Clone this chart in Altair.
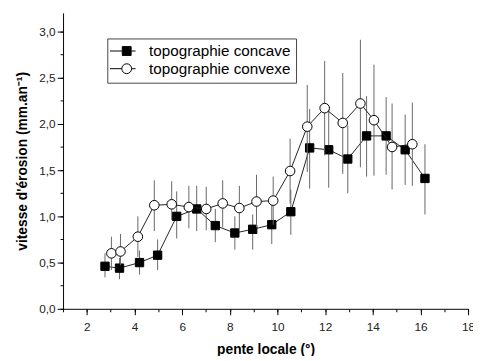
import altair as alt
import pandas as pd

# ---------------- data ----------------
series_names = ["topographie concave", "topographie convexe"]

concave_x = [2.76, 3.37, 4.21, 4.97, 5.77, 6.61, 7.39, 8.21, 8.96, 9.76, 10.56, 11.35, 12.15, 12.95, 13.74, 14.56, 15.36, 16.19]
concave_y = [0.46, 0.44, 0.50, 0.58, 1.00, 1.08, 0.90, 0.82, 0.86, 0.91, 1.05, 1.74, 1.72, 1.62, 1.87, 1.87, 1.72, 1.41]
concave_lo = [0.34, 0.32, 0.37, 0.42, 0.76, 0.84, 0.72, 0.64, 0.64, 0.70, 0.80, 1.30, 1.31, 1.25, 1.43, 1.45, 1.34, 1.02]
concave_hi = [0.60, 0.55, 0.63, 0.75, 1.27, 1.33, 1.08, 1.00, 1.02, 1.14, 1.29, 2.16, 2.18, 1.98, 2.30, 2.29, 2.10, 1.78]

convex_x = [3.03, 3.41, 4.14, 4.83, 5.56, 6.28, 7.01, 7.70, 8.40, 9.12, 9.82, 10.53, 11.25, 11.98, 12.74, 13.48, 14.05, 14.81, 15.66]
convex_y = [0.60, 0.62, 0.78, 1.12, 1.13, 1.10, 1.08, 1.14, 1.09, 1.16, 1.17, 1.49, 1.97, 2.17, 2.01, 2.22, 2.04, 1.75, 1.78]
convex_lo = [0.42, 0.47, 0.56, 0.84, 0.96, 0.87, 0.85, 0.88, 0.86, 0.88, 0.91, 1.14, 1.48, 1.66, 1.46, 1.53, 1.44, 1.29, 1.33]
convex_hi = [0.78, 0.81, 1.00, 1.39, 1.38, 1.33, 1.32, 1.39, 1.33, 1.45, 1.43, 1.84, 2.42, 2.68, 2.55, 2.91, 2.64, 2.22, 2.23]

x_major_ticks = [2, 4, 6, 8, 10, 12, 14, 16, 18]
x_minor_ticks = [1, 2, 3, 4, 5, 6, 7, 8, 9, 10, 11, 12, 13, 14, 15, 16, 17, 18]
y_major_ticks = [0.0, 0.5, 1.0, 1.5, 2.0, 2.5, 3.0]
y_minor_ticks = [0.0, 0.25, 0.5, 0.75, 1.0, 1.25, 1.5, 1.75, 2.0, 2.25, 2.5, 2.75, 3.0]

# ---------------- tables ----------------
df = pd.concat([
    pd.DataFrame({"serie": series_names[0], "x": concave_x, "y": concave_y, "lo": concave_lo, "hi": concave_hi}),
    pd.DataFrame({"serie": series_names[1], "x": convex_x, "y": convex_y, "lo": convex_lo, "hi": convex_hi}),
], ignore_index=True)

FONT = "Arial"
x_scale = alt.Scale(domain=[1, 18], nice=False, zero=False)
y_scale = alt.Scale(domain=[0, 3.2], nice=False, zero=False)

main_x_axis = alt.Axis(values=x_major_ticks, orient="bottom", title="pente locale (°)", grid=False,
                       tickSize=6, tickColor="black", domainColor="black", labelPadding=7,
                       labelFont=FONT, labelFontSize=12, labelColor="#222", labelFlush=False,
                       titleFont=FONT, titleFontSize=14, titleFontWeight="bold", titleColor="black",
                       titlePadding=10)
minor_x_axis = alt.Axis(values=x_minor_ticks, orient="bottom", title=None, grid=False, labels=False,
                        domain=False, tickSize=3, tickColor="black")
main_y_axis = alt.Axis(values=y_major_ticks, orient="left", title="vitesse d'érosion (mm.an⁻¹)", grid=False,
                       tickSize=6, tickColor="black", domainColor="black", labelPadding=2,
                       labelFont=FONT, labelFontSize=12, labelColor="#222", labelFlush=False,
                       labelExpr="replace(format(datum.value, '.1f'), '.', ',')",
                       titleFont=FONT, titleFontSize=14, titleFontWeight="bold", titleColor="black",
                       titlePadding=10)
minor_y_axis = alt.Axis(values=y_minor_ticks, orient="left", title=None, grid=False, labels=False,
                        domain=False, tickSize=3, tickColor="black")

base = alt.Chart(df)


def sel(name):
    return base.transform_filter(alt.datum.serie == name)


def errbars(name):
    return sel(name).mark_rule(color="#666", strokeWidth=1).encode(
        x=alt.X("x:Q", scale=x_scale, axis=None),
        y=alt.Y("lo:Q", scale=y_scale, axis=None),
        y2="hi:Q",
    )


def line(name):
    return sel(name).mark_line(color="#222", strokeWidth=1).encode(
        x=alt.X("x:Q", scale=x_scale, axis=None),
        y=alt.Y("y:Q", scale=y_scale, axis=None),
        order="x:Q",
    )


concave_pts = sel(series_names[0]).mark_point(shape="square", filled=True, fill="black", stroke="black",
                                              strokeWidth=1, opacity=1, size=72).encode(
    x=alt.X("x:Q", scale=x_scale, axis=main_x_axis),
    y=alt.Y("y:Q", scale=y_scale, axis=main_y_axis),
)
convex_pts = sel(series_names[1]).mark_point(shape="circle", filled=True, fill="white", stroke="black",
                                             strokeWidth=1, opacity=1, size=95).encode(
    x=alt.X("x:Q", scale=x_scale, axis=None),
    y=alt.Y("y:Q", scale=y_scale, axis=None),
)

# legend symbols: a line with the marker on it (custom paths)
sq_path = "M-3.4,0H-0.9M0.9,0H1.8M-0.9,-0.9H0.9V0.9H-0.9Z"
ci_path = "M-3.4,0H-1M1,0H1.8M1,0A1,1 0 1 1 -1,0A1,1 0 1 1 1,0"
legend = alt.Legend(orient="none", legendX=45, legendY=26, title=None,
                    labelFont=FONT, labelFontSize=15.5, labelColor="black",
                    symbolSize=100, symbolOffset=7, labelOffset=15, padding=5, rowPadding=1,
                    symbolStrokeWidth=1,
                    strokeColor="#444", fillColor="white")
legend_layer = base.transform_filter("false").mark_point(filled=False, strokeWidth=1,
                                                          opacity=1).encode(
    x=alt.X("x:Q", scale=x_scale, axis=minor_x_axis),
    y=alt.Y("y:Q", scale=y_scale, axis=minor_y_axis),
    shape=alt.Shape("serie:N", scale=alt.Scale(domain=series_names, range=[sq_path, ci_path]), legend=legend),
    fill=alt.Fill("serie:N", scale=alt.Scale(domain=series_names, range=["black", "white"]), legend=legend),
    stroke=alt.Stroke("serie:N", scale=alt.Scale(domain=series_names, range=["black", "black"]), legend=legend),
)

chart = alt.layer(
    legend_layer,
    errbars(series_names[0]), line(series_names[0]), concave_pts,
    errbars(series_names[1]), line(series_names[1]), convex_pts,
).resolve_axis(x="independent", y="independent").properties(
    width=412, height=301,
    autosize=alt.AutoSizeParams(type="none"),
    padding={"left": 56, "top": 2, "right": 5, "bottom": 45},
    background="white",
).configure_view(stroke=None)

chart.save("out.html", embed_options={"renderer": "svg", "actions": False})
